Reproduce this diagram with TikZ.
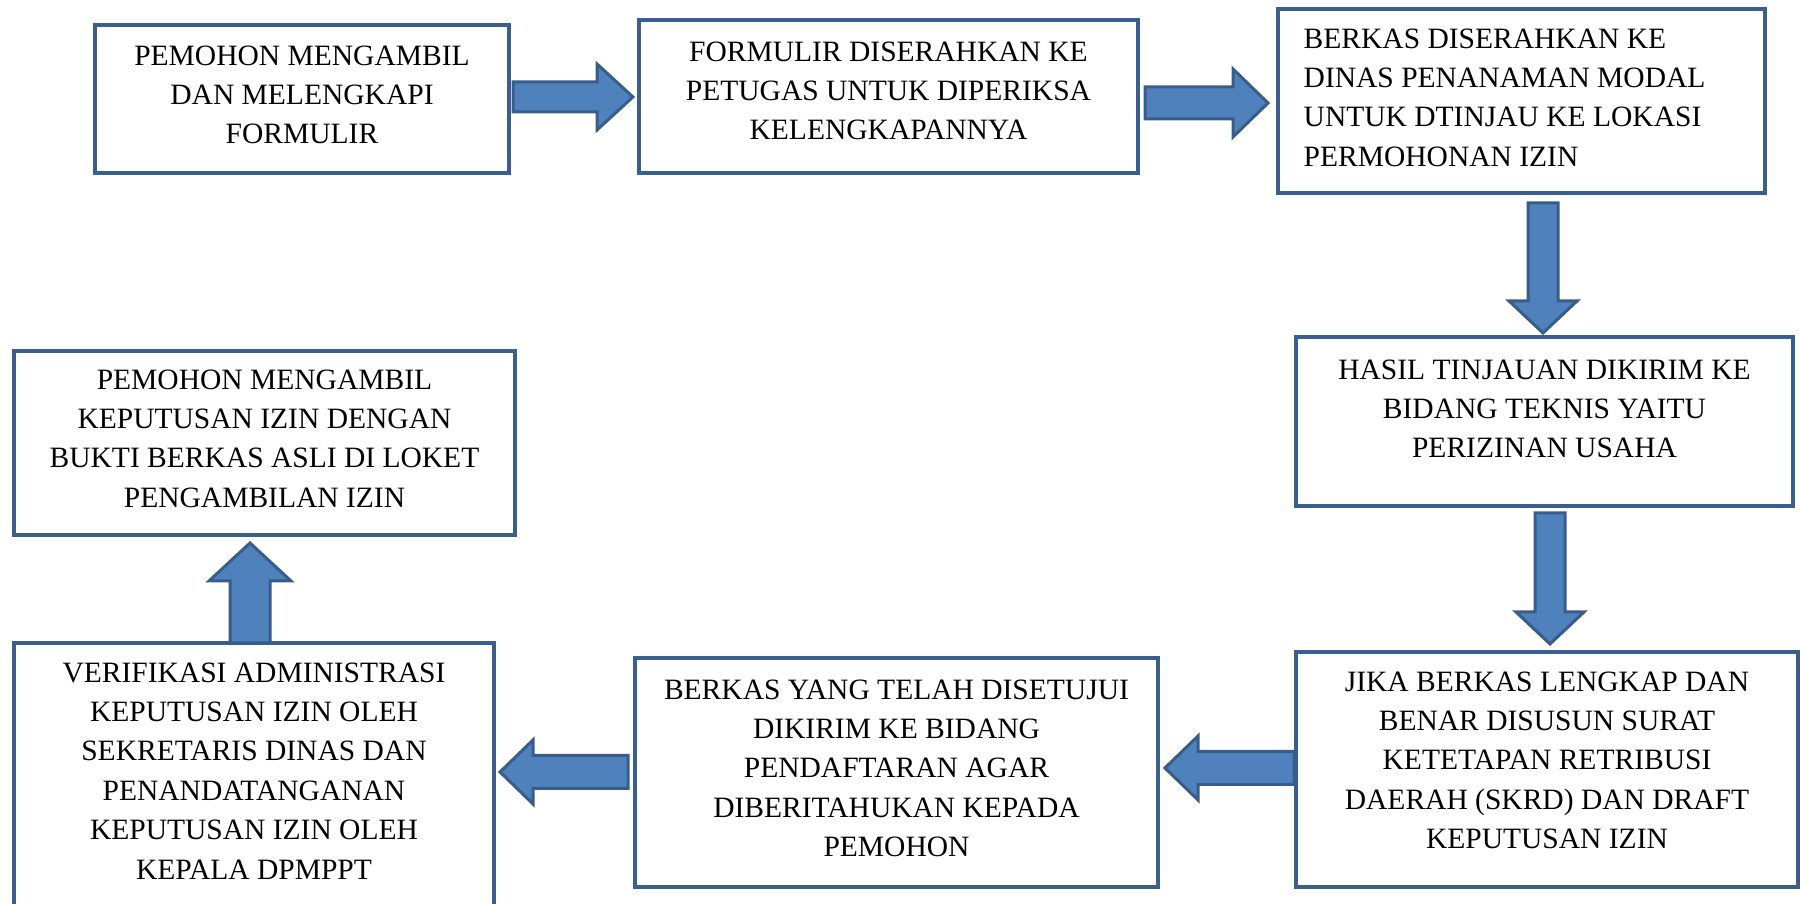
\documentclass[tikz,border=0pt]{standalone}
\usepackage{fontspec}
\setmainfont{Liberation Serif}
\usetikzlibrary{calc,positioning}
\definecolor{boxline}{HTML}{3A5F8E}
\definecolor{arrowfill}{HTML}{4F81BD}
\definecolor{arrowline}{HTML}{385D8A}
\tikzset{
  stepbox/.style={draw=boxline, line width=0.04cm, outer sep=0pt, inner sep=0pt},
  steptext/.style={anchor=north, inner sep=0pt, align=center},
  blockarrow/.style n args={3}{fill=arrowfill, draw=arrowline, line width=0.03cm,
    to path={($(\tikztostart)!#1!-90:(\tikztotarget)$)
      -- ($(\tikztotarget)!#3!(\tikztostart)!#1!90:(\tikztostart)$)
      -- ($(\tikztotarget)!#3!(\tikztostart)!#2!90:(\tikztostart)$)
      -- (\tikztotarget)
      -- ($(\tikztotarget)!#3!(\tikztostart)!#2!-90:(\tikztostart)$)
      -- ($(\tikztotarget)!#3!(\tikztostart)!#1!-90:(\tikztostart)$)
      -- ($(\tikztostart)!#1!90:(\tikztotarget)$) -- cycle}}
}

\begin{document}
\begin{tikzpicture}
                    \useasboundingbox (0,0) rectangle (18,9.04);
                    {\fontsize{8.4}{11.2}\selectfont

                    % Drawing box pemohon
                    \node [stepbox, minimum width=4.14cm, minimum height=1.48cm] (pemohon) at (3.02,8.05) {};%
                    \node [steptext] (pemohontxt) at ([yshift=-0.20cm]pemohon.north) {PEMOHON MENGAMBIL\\DAN MELENGKAPI\\FORMULIR};%

                    % Drawing box formulir
                    \node [stepbox, minimum width=4.99cm, minimum height=1.53cm] (formulir) at (8.885,8.075) {};%
                    \node [steptext] (formulirtxt) at ([yshift=-0.21cm]formulir.north) {FORMULIR DISERAHKAN KE\\PETUGAS UNTUK DIPERIKSA\\KELENGKAPANNYA};%

                    % Drawing box berkas
                    \node [stepbox, minimum width=4.87cm, minimum height=1.84cm] (berkas) at (15.215,8.03) {};%
                    \node [steptext, anchor=north west, align=left] (berkastxt) at ([xshift=0.25cm,yshift=-0.19cm]berkas.north west) {BERKAS DISERAHKAN KE\\DINAS PENANAMAN MODAL\\UNTUK DTINJAU KE LOKASI\\PERMOHONAN IZIN};%

                    % Drawing box tinjauan
                    \node [stepbox, minimum width=4.97cm, minimum height=1.69cm] (tinjauan) at (15.445,4.825) {};%
                    \node [steptext] (tinjauantxt) at ([yshift=-0.22cm]tinjauan.north) {HASIL TINJAUAN DIKIRIM KE\\BIDANG TEKNIS YAITU\\PERIZINAN USAHA};%

                    % Drawing box skrd
                    \node [stepbox, minimum width=5.02cm, minimum height=2.35cm] (skrd) at (15.47,1.345) {};%
                    \node [steptext] (skrdtxt) at ([yshift=-0.19cm]skrd.north) {JIKA BERKAS LENGKAP DAN\\BENAR DISUSUN SURAT\\KETETAPAN RETRIBUSI\\DAERAH (SKRD) DAN DRAFT\\KEPUTUSAN IZIN};%

                    % Drawing box pendaftaran
                    \node [stepbox, minimum width=5.23cm, minimum height=2.29cm] (pendaftaran) at (8.965,1.315) {};%
                    \node [steptext] (pendaftarantxt) at ([yshift=-0.21cm]pendaftaran.north) {BERKAS YANG TELAH DISETUJUI\\DIKIRIM KE BIDANG\\PENDAFTARAN AGAR\\DIBERITAHUKAN KEPADA\\PEMOHON};%

                    % Drawing box verifikasi
                    \node [stepbox, minimum width=4.80cm, minimum height=2.72cm] (verifikasi) at (2.54,1.25) {};%
                    \node [steptext] (verifikasitxt) at ([yshift=-0.19cm]verifikasi.north) {VERIFIKASI ADMINISTRASI\\KEPUTUSAN IZIN OLEH\\SEKRETARIS DINAS DAN\\PENANDATANGANAN\\KEPUTUSAN IZIN OLEH\\KEPALA DPMPPT};%

                    % Drawing box pengambilan
                    \node [stepbox, minimum width=5.01cm, minimum height=1.84cm] (pengambilan) at (2.645,4.61) {};%
                    \node [steptext] (pengambilantxt) at ([yshift=-0.18cm]pengambilan.north) {PEMOHON MENGAMBIL\\KEPUTUSAN IZIN DENGAN\\BUKTI BERKAS ASLI DI LOKET\\PENGAMBILAN IZIN};%

                    % Drawing arrow pemohon formulir
                    \coordinate (a1s) at ([xshift=0.04cm,yshift=0.02cm]pemohon.east);%
                    \coordinate (a1e) at ($(a1s -| formulir.west)+(-0.06,0)$);%
                    \draw [blockarrow={0.15cm}{0.33cm}{0.36cm}] (a1s) to (a1e);%

                    % Drawing arrow formulir berkas
                    \coordinate (a2s) at ([xshift=0.07cm,yshift=-0.065cm]formulir.east);%
                    \coordinate (a2e) at ($(a2s -| berkas.west)+(-0.10,0)$);%
                    \draw [blockarrow={0.16cm}{0.34cm}{0.35cm}] (a2s) to (a2e);%

                    % Drawing arrow berkas tinjauan
                    \coordinate (a3s) at ([xshift=0.215cm,yshift=-0.10cm]berkas.south);%
                    \coordinate (a3e) at ($(a3s |- tinjauan.north)+(0,0.04)$);%
                    \draw [blockarrow={0.15cm}{0.34cm}{0.32cm}] (a3s) to (a3e);%

                    % Drawing arrow tinjauan skrd
                    \coordinate (a4s) at ([xshift=0.055cm,yshift=-0.07cm]tinjauan.south);%
                    \coordinate (a4e) at ($(a4s |- skrd.north)+(0,0.08)$);%
                    \draw [blockarrow={0.15cm}{0.34cm}{0.32cm}] (a4s) to (a4e);%

                    % Drawing arrow skrd pendaftaran
                    \coordinate (a5s) at ([xshift=-0.02cm,yshift=0.015cm]skrd.west);%
                    \coordinate (a5e) at ($(a5s -| pendaftaran.east)+(0.07,0)$);%
                    \draw [blockarrow={0.165cm}{0.32cm}{0.33cm}] (a5s) to (a5e);%

                    % Drawing arrow pendaftaran verifikasi
                    \coordinate (a6s) at ([xshift=-0.07cm,yshift=0.005cm]pendaftaran.west);%
                    \coordinate (a6e) at ($(a6s -| verifikasi.east)+(0.06,0)$);%
                    \draw [blockarrow={0.165cm}{0.32cm}{0.33cm}] (a6s) to (a6e);%

                    % Drawing arrow verifikasi pengambilan
                    \coordinate (a7s) at ([xshift=-0.04cm]verifikasi.north);%
                    \coordinate (a7e) at ($(a7s |- pengambilan.south)+(0,-0.08)$);%
                    \draw [blockarrow={0.20cm}{0.41cm}{0.38cm}] (a7s) to (a7e);%
                    }
\end{tikzpicture}
\end{document}
